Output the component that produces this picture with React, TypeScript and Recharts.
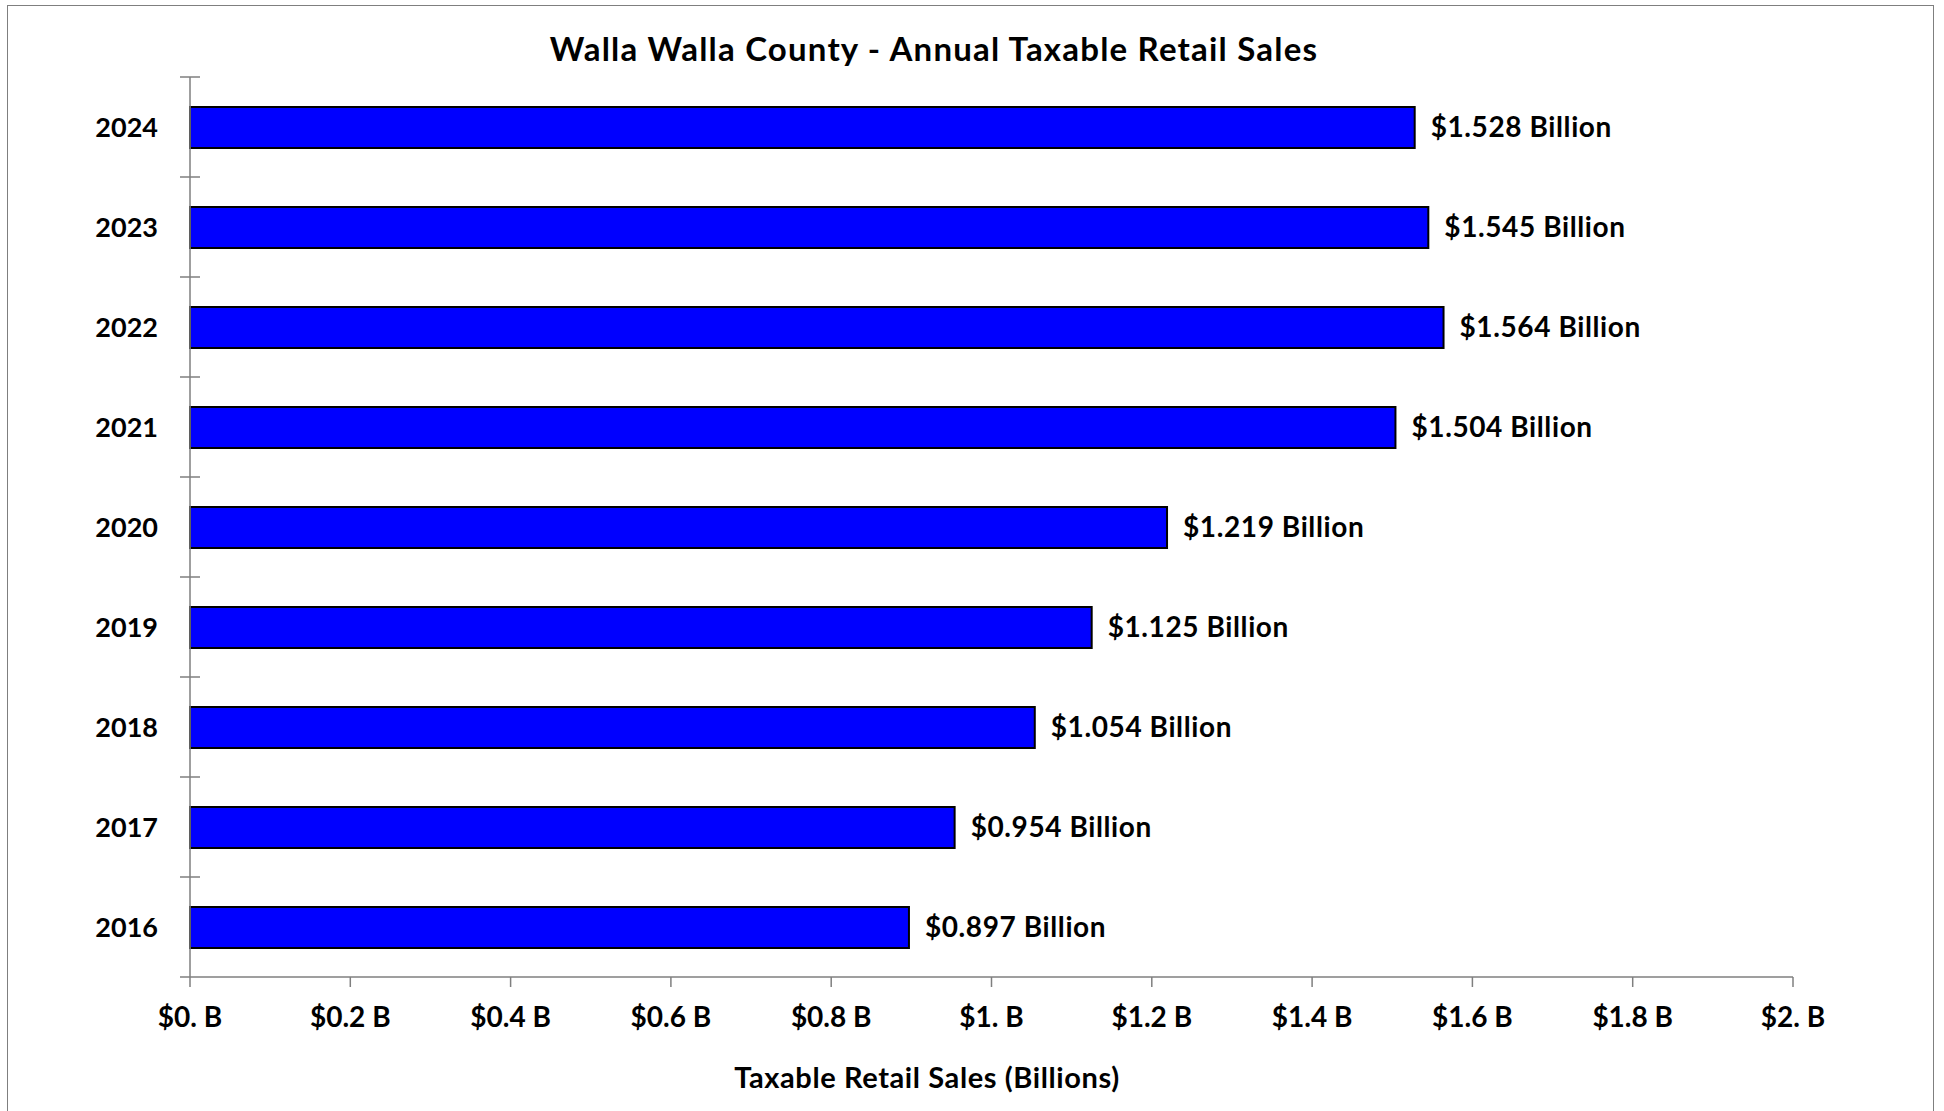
import { Bar, BarChart, LabelList, XAxis, YAxis } from "recharts";

const YEARS = ["2024", "2023", "2022", "2021", "2020", "2019", "2018", "2017", "2016"];
const SALES_BILLIONS = [1.528, 1.545, 1.564, 1.504, 1.219, 1.125, 1.054, 0.954, 0.897];
const X_TICKS = [0, 0.2, 0.4, 0.6, 0.8, 1, 1.2, 1.4, 1.6, 1.8, 2];

const TITLE = "Walla Walla County - Annual Taxable Retail Sales";
const X_TITLE = "Taxable Retail Sales (Billions)";

const FONT = "Lato, 'Open Sans', sans-serif";
const AXIS_GRAY = "#7f7f7f";

const chartData = YEARS.map((year, i) => ({ year, sales: SALES_BILLIONS[i] }));

// Excel-style axis label: whole numbers keep their trailing dot ("$1. B")
const formatTick = (v: number) => (Number.isInteger(v) ? `$${v}. B` : `$${v} B`);

// Category ticks sit between bands, not at the label, so draw them ourselves.
function YearTick(props: any) {
  const { x, y, payload, index } = props;
  const half = 50;
  const isLast = index === YEARS.length - 1;
  return (
    <g>
      <line x1={x - 10} x2={x + 10} y1={y - half} y2={y - half} stroke={AXIS_GRAY} strokeWidth={1.5} />
      {isLast && <line x1={x - 10} x2={x} y1={y + half} y2={y + half} stroke={AXIS_GRAY} strokeWidth={1.5} />}
      <text x={x - 32} y={y} dy="0.36em" textAnchor="end" fill="#000" fontFamily={FONT} fontWeight={700} fontSize={27}>
        {payload.value}
      </text>
    </g>
  );
}

export default function App() {
  return (
    <div style={{ position: "absolute", left: 0, top: 0, width: 1944, height: 1111, background: "#fff", overflow: "hidden" }}>
      <div
        style={{
          position: "absolute",
          left: 7,
          top: 5,
          width: 1927,
          height: 1200,
          border: "1.5px solid #7f7f7f",
          boxSizing: "border-box",
        }}
      />
      <div
        style={{
          position: "absolute",
          left: 934,
          top: 48,
          transform: "translate(-50%, -50%)",
          fontFamily: FONT,
          fontWeight: 700,
          fontSize: 33,
          letterSpacing: 1.2,
          whiteSpace: "nowrap",
          color: "#000",
        }}
      >
        {TITLE}
      </div>
      <div
        style={{
          position: "absolute",
          left: 927,
          top: 1076,
          transform: "translate(-50%, -50%)",
          fontFamily: FONT,
          fontWeight: 700,
          fontSize: 29,
          letterSpacing: 0.6,
          whiteSpace: "nowrap",
          color: "#000",
        }}
      >
        {X_TITLE}
      </div>
      <div style={{ position: "absolute", left: 0, top: 0 }}>
        <BarChart
          width={1944}
          height={1111}
          data={chartData}
          layout="vertical"
          margin={{ top: 77, right: 151, bottom: 74, left: 90 }}
        >
          <XAxis
            type="number"
            domain={[0, 2]}
            ticks={X_TICKS}
            tickFormatter={formatTick}
            height={60}
            axisLine={{ stroke: AXIS_GRAY, strokeWidth: 1.5 }}
            tickLine={{ stroke: AXIS_GRAY, strokeWidth: 1.5 }}
            tickSize={10}
            tickMargin={20}
            tick={{ fill: "#000", fontFamily: FONT, fontWeight: 700, fontSize: 28 }}
            interval={0}
          />
          <YAxis
            type="category"
            dataKey="year"
            width={100}
            axisLine={{ stroke: AXIS_GRAY, strokeWidth: 1.5 }}
            tickLine={false}
            tickSize={0}
            tickMargin={0}
            tick={<YearTick />}
            interval={0}
          />
          <Bar dataKey="sales" fill="#0000ff" stroke="#000" strokeWidth={2} barSize={41} isAnimationActive={false}>
            <LabelList
              dataKey="sales"
              position="right"
              offset={16}
              formatter={(v: any) => `$${Number(v).toFixed(3)} Billion`}
              fill="#000"
              fontFamily={FONT}
              fontWeight={700}
              fontSize={28}
              style={{ letterSpacing: 0.6 }}
            />
          </Bar>
        </BarChart>
      </div>
    </div>
  );
}
